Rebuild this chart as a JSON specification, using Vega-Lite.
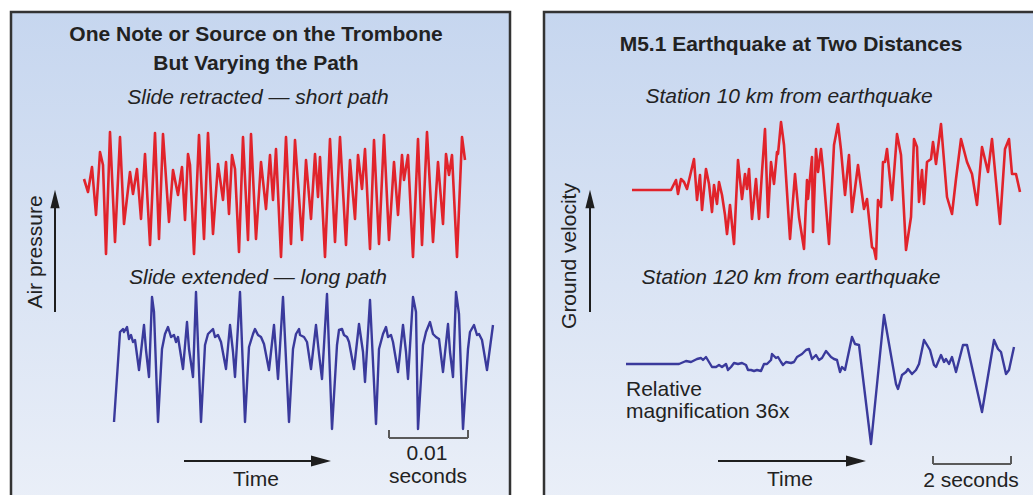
{
  "$schema": "https://vega.github.io/schema/vega-lite/v6.json",
  "background": "white",
  "padding": {"left": 9, "top": 10, "right": 0, "bottom": 0},
  "spacing": 30,
  "config": {
    "view": {
      "stroke": "#333333",
      "strokeWidth": 2.5,
      "fill": {
        "gradient": "linear",
        "x1": 0, "y1": 0, "x2": 0, "y2": 1,
        "stops": [
          {"offset": 0, "color": "#c6d6ef"},
          {"offset": 1, "color": "#eaeff8"}
        ]
      }
    },
    "text": {"font": "Liberation Sans", "fontSize": 21, "color": "#222222"}
  },
  "datasets": {
    "tromboneShort": [
      {"x":73,"y":167},{"x":77,"y":180},{"x":81,"y":155},{"x":85,"y":203},{"x":89,"y":140},{"x":92,"y":153},{"x":95,"y":242},{"x":99,"y":120},{"x":104,"y":230},{"x":109,"y":125},{"x":113,"y":212},{"x":119,"y":160},{"x":122,"y":182},{"x":126,"y":157},{"x":130,"y":207},{"x":134,"y":142},{"x":139,"y":233},{"x":144,"y":121},{"x":148,"y":227},{"x":152,"y":122},{"x":158,"y":210},{"x":162,"y":158},{"x":167,"y":183},{"x":171,"y":155},{"x":174,"y":208},{"x":177,"y":142},{"x":179,"y":153},{"x":183,"y":242},{"x":188,"y":123},{"x":193,"y":227},{"x":197,"y":121},{"x":202,"y":222},{"x":207,"y":152},{"x":212,"y":188},{"x":215,"y":150},{"x":218,"y":202},{"x":221,"y":143},{"x":224,"y":157},{"x":228,"y":240},{"x":232,"y":125},{"x":237,"y":228},{"x":240,"y":122},{"x":245,"y":227},{"x":250,"y":150},{"x":255,"y":197},{"x":259,"y":143},{"x":262,"y":188},{"x":265,"y":137},{"x":270,"y":245},{"x":275,"y":125},{"x":280,"y":232},{"x":284,"y":128},{"x":291,"y":228},{"x":295,"y":148},{"x":300,"y":207},{"x":304,"y":142},{"x":307,"y":185},{"x":309,"y":145},{"x":314,"y":245},{"x":319,"y":127},{"x":324,"y":230},{"x":329,"y":125},{"x":335,"y":233},{"x":339,"y":148},{"x":344,"y":207},{"x":347,"y":143},{"x":351,"y":177},{"x":354,"y":137},{"x":359,"y":237},{"x":363,"y":128},{"x":368,"y":232},{"x":373,"y":123},{"x":378,"y":228},{"x":383,"y":150},{"x":387,"y":203},{"x":391,"y":143},{"x":393,"y":168},{"x":397,"y":143},{"x":402,"y":245},{"x":407,"y":127},{"x":411,"y":233},{"x":416,"y":120},{"x":422,"y":230},{"x":427,"y":150},{"x":432,"y":212},{"x":435,"y":142},{"x":438,"y":163},{"x":441,"y":143},{"x":446,"y":245},{"x":451,"y":125},{"x":454,"y":148}
    ],
    "tromboneLong": [
      {"x":103,"y":410},{"x":109,"y":320},{"x":112,"y":317},{"x":113,"y":320},{"x":116,"y":315},{"x":118,"y":327},{"x":120,"y":323},{"x":122,"y":330},{"x":124,"y":328},{"x":128,"y":358},{"x":133,"y":313},{"x":135,"y":338},{"x":138,"y":365},{"x":141,"y":285},{"x":143,"y":300},{"x":147,"y":410},{"x":151,"y":337},{"x":154,"y":322},{"x":157,"y":315},{"x":160,"y":325},{"x":163,"y":323},{"x":165,"y":330},{"x":167,"y":325},{"x":172,"y":357},{"x":176,"y":310},{"x":178,"y":337},{"x":182,"y":365},{"x":185,"y":280},{"x":190,"y":410},{"x":194,"y":333},{"x":197,"y":322},{"x":202,"y":317},{"x":204,"y":325},{"x":207,"y":323},{"x":210,"y":330},{"x":215,"y":357},{"x":219,"y":313},{"x":222,"y":340},{"x":224,"y":365},{"x":229,"y":280},{"x":234,"y":410},{"x":238,"y":335},{"x":242,"y":322},{"x":244,"y":317},{"x":247,"y":323},{"x":250,"y":325},{"x":253,"y":332},{"x":258,"y":358},{"x":263,"y":313},{"x":265,"y":340},{"x":267,"y":367},{"x":272,"y":285},{"x":278,"y":410},{"x":282,"y":337},{"x":285,"y":322},{"x":288,"y":317},{"x":289,"y":323},{"x":293,"y":325},{"x":296,"y":330},{"x":300,"y":357},{"x":305,"y":313},{"x":308,"y":342},{"x":311,"y":367},{"x":316,"y":282},{"x":321,"y":417},{"x":326,"y":333},{"x":328,"y":318},{"x":331,"y":317},{"x":333,"y":323},{"x":336,"y":325},{"x":338,"y":330},{"x":343,"y":357},{"x":348,"y":312},{"x":352,"y":340},{"x":354,"y":370},{"x":359,"y":288},{"x":365,"y":412},{"x":368,"y":337},{"x":372,"y":322},{"x":375,"y":315},{"x":377,"y":325},{"x":380,"y":323},{"x":382,"y":330},{"x":387,"y":360},{"x":392,"y":313},{"x":395,"y":340},{"x":397,"y":367},{"x":402,"y":285},{"x":405,"y":300},{"x":407,"y":417},{"x":412,"y":333},{"x":415,"y":320},{"x":419,"y":310},{"x":422,"y":322},{"x":425,"y":325},{"x":428,"y":327},{"x":432,"y":360},{"x":437,"y":312},{"x":439,"y":340},{"x":442,"y":365},{"x":445,"y":280},{"x":448,"y":302},{"x":452,"y":417},{"x":457,"y":337},{"x":459,"y":320},{"x":463,"y":313},{"x":466,"y":323},{"x":468,"y":322},{"x":471,"y":328},{"x":476,"y":358},{"x":482,"y":313}
    ],
    "quakeNear": [
      {"x":88,"y":178},{"x":127,"y":178},{"x":132,"y":168},{"x":134,"y":182},{"x":137,"y":167},{"x":140,"y":170},{"x":143,"y":177},{"x":150,"y":147},{"x":153,"y":188},{"x":156,"y":163},{"x":158,"y":198},{"x":162,"y":157},{"x":165,"y":172},{"x":168,"y":200},{"x":170,"y":173},{"x":173,"y":192},{"x":175,"y":170},{"x":178,"y":183},{"x":181,"y":203},{"x":183,"y":222},{"x":186,"y":193},{"x":190,"y":232},{"x":194,"y":148},{"x":198,"y":187},{"x":201,"y":162},{"x":203,"y":177},{"x":205,"y":157},{"x":208,"y":207},{"x":212,"y":167},{"x":215,"y":207},{"x":218,"y":160},{"x":221,"y":117},{"x":224,"y":205},{"x":227,"y":150},{"x":230,"y":172},{"x":233,"y":140},{"x":234,"y":142},{"x":237,"y":110},{"x":240,"y":133},{"x":246,"y":227},{"x":251,"y":162},{"x":255,"y":205},{"x":260,"y":237},{"x":263,"y":168},{"x":264,"y":187},{"x":268,"y":145},{"x":269,"y":220},{"x":272,"y":137},{"x":274,"y":160},{"x":277,"y":137},{"x":279,"y":157},{"x":285,"y":232},{"x":290,"y":133},{"x":294,"y":112},{"x":297,"y":138},{"x":301,"y":183},{"x":305,"y":143},{"x":308,"y":200},{"x":314,"y":153},{"x":320,"y":197},{"x":323,"y":187},{"x":328,"y":235},{"x":330,"y":237},{"x":332,"y":247},{"x":334,"y":188},{"x":337,"y":195},{"x":339,"y":150},{"x":341,"y":150},{"x":343,"y":137},{"x":348,"y":188},{"x":353,"y":122},{"x":357,"y":143},{"x":362,"y":238},{"x":367,"y":205},{"x":370,"y":127},{"x":373,"y":135},{"x":375,"y":190},{"x":378,"y":158},{"x":380,"y":192},{"x":383,"y":150},{"x":387,"y":147},{"x":389,"y":130},{"x":392,"y":152},{"x":397,"y":112},{"x":403,"y":185},{"x":408,"y":202},{"x":412,"y":167},{"x":417,"y":127},{"x":423,"y":150},{"x":428,"y":162},{"x":433,"y":193},{"x":438,"y":135},{"x":444,"y":160},{"x":448,"y":127},{"x":456,"y":212},{"x":461,"y":137},{"x":465,"y":127},{"x":468,"y":162},{"x":472,"y":162},{"x":476,"y":180}
    ],
    "quakeFar": [
      {"x":82,"y":352},{"x":135,"y":352},{"x":142,"y":349},{"x":147,"y":350},{"x":151,"y":348},{"x":153,"y":347},{"x":157,"y":346},{"x":159,"y":348},{"x":162,"y":345},{"x":165,"y":350},{"x":168,"y":355},{"x":172,"y":355},{"x":175,"y":353},{"x":178,"y":355},{"x":182,"y":352},{"x":184,"y":358},{"x":187,"y":355},{"x":190,"y":351},{"x":194,"y":352},{"x":198,"y":351},{"x":202,"y":353},{"x":204,"y":358},{"x":207,"y":358},{"x":210,"y":359},{"x":213,"y":358},{"x":217,"y":359},{"x":220,"y":352},{"x":223,"y":352},{"x":227,"y":348},{"x":228,"y":342},{"x":232,"y":346},{"x":234,"y":345},{"x":237,"y":350},{"x":239,"y":353},{"x":242,"y":350},{"x":247,"y":351},{"x":250,"y":350},{"x":253,"y":345},{"x":258,"y":342},{"x":262,"y":338},{"x":265,"y":337},{"x":268,"y":347},{"x":272,"y":343},{"x":275,"y":348},{"x":278,"y":346},{"x":282,"y":339},{"x":287,"y":345},{"x":290,"y":347},{"x":293,"y":348},{"x":296,"y":360},{"x":298,"y":355},{"x":301,"y":358},{"x":308,"y":325},{"x":311,"y":332},{"x":315,"y":333},{"x":327,"y":432},{"x":340,"y":303},{"x":352,"y":372},{"x":354,"y":377},{"x":358,"y":363},{"x":362,"y":360},{"x":364,"y":357},{"x":368,"y":362},{"x":372,"y":358},{"x":375,"y":352},{"x":380,"y":328},{"x":386,"y":338},{"x":390,"y":353},{"x":392,"y":355},{"x":397,"y":343},{"x":400,"y":350},{"x":402,"y":347},{"x":405,"y":352},{"x":408,"y":345},{"x":412,"y":360},{"x":419,"y":333},{"x":423,"y":333},{"x":438,"y":400},{"x":450,"y":328},{"x":454,"y":337},{"x":457,"y":340},{"x":462,"y":362},{"x":465,"y":358},{"x":470,"y":335}
    ],
    "leftLabels": [
      {"role":"title","x":245,"y":23,"label":"One Note or Source on the Trombone"},
      {"role":"title","x":245,"y":52,"label":"But Varying the Path"},
      {"role":"trace","x":247,"y":86,"label":"Slide retracted — short path"},
      {"role":"trace","x":247,"y":266,"label":"Slide extended — long path"},
      {"role":"note","x":245,"y":468,"label":"Time"},
      {"role":"note","x":416,"y":442,"label":"0.01"},
      {"role":"note","x":417,"y":465,"label":"seconds"},
      {"role":"axis","x":25,"y":240,"label":"Air pressure"}
    ],
    "rightLabels": [
      {"role":"title","x":247,"y":33,"label":"M5.1 Earthquake at Two Distances"},
      {"role":"trace","x":245,"y":85,"label":"Station 10 km from earthquake"},
      {"role":"trace","x":247,"y":266,"label":"Station 120 km from earthquake"},
      {"role":"note","x":246,"y":468,"label":"Time"},
      {"role":"note","x":427,"y":469,"label":"2 seconds"},
      {"role":"side","x":82,"y":378,"label":"Relative"},
      {"role":"side","x":82,"y":400,"label":"magnification 36x"},
      {"role":"axis","x":26,"y":244,"label":"Ground velocity"}
    ],
    "leftArrows": [
      {"x":173,"y":449,"x2":312,"y2":449,"dir":"right"},
      {"x":44,"y":300,"x2":44,"y2":190,"dir":"up"}
    ],
    "leftHeads": [
      {"x":310,"y":449,"dir":"right"},
      {"x":44,"y":187,"dir":"up"}
    ],
    "leftBracket": [
      {"x":378,"y":426,"x2":457,"y2":426},
      {"x":378,"y":418,"x2":378,"y2":426},
      {"x":457,"y":418,"x2":457,"y2":426}
    ],
    "rightArrows": [
      {"x":174,"y":449,"x2":314,"y2":449,"dir":"right"},
      {"x":46,"y":300,"x2":46,"y2":190,"dir":"up"}
    ],
    "rightHeads": [
      {"x":312,"y":449,"dir":"right"},
      {"x":46,"y":187,"dir":"up"}
    ],
    "rightBracket": [
      {"x":389,"y":452,"x2":467,"y2":452},
      {"x":389,"y":444,"x2":389,"y2":452},
      {"x":467,"y":444,"x2":467,"y2":452}
    ]
  },
  "hconcat": [
    {
      "width": 499,
      "height": 490,
      "encoding": {
        "x": {"field": "x", "type": "quantitative", "scale": {"domain": [0, 499], "nice": false, "zero": false}, "axis": null},
        "y": {"field": "y", "type": "quantitative", "scale": {"domain": [0, 490], "nice": false, "zero": false, "reverse": true}, "axis": null}
      },
      "layer": [
        {"data": {"name": "tromboneShort"}, "mark": {"type": "line", "color": "#e1232b", "strokeWidth": 2.6, "strokeJoin": "round"}, "encoding": {}},
        {"data": {"name": "tromboneLong"}, "mark": {"type": "line", "color": "#3a3a9c", "strokeWidth": 2.4, "strokeJoin": "round"}, "encoding": {}},
        {"data": {"name": "leftArrows"}, "mark": {"type": "rule", "color": "#1e1e1e", "strokeWidth": 2}, "encoding": {"x2": {"field": "x2"}, "y2": {"field": "y2"}}},
        {"data": {"name": "leftBracket"}, "mark": {"type": "rule", "color": "#5a5a5a", "strokeWidth": 2}, "encoding": {"x2": {"field": "x2"}, "y2": {"field": "y2"}}},
        {"data": {"name": "leftHeads"}, "transform": [{"filter": "datum.dir === 'right'"}], "mark": {"type": "point", "shape": "M1,0L-1,0.55L-1,-0.55Z", "filled": true, "size": 400, "color": "#1e1e1e", "opacity": 1}},
        {"data": {"name": "leftHeads"}, "transform": [{"filter": "datum.dir === 'up'"}], "mark": {"type": "point", "shape": "M0,-1L0.5,1L-0.5,1Z", "filled": true, "size": 340, "color": "#1e1e1e", "opacity": 1}},
        {"data": {"name": "leftLabels"}, "transform": [{"filter": "datum.role === 'title'"}], "mark": {"type": "text", "fontWeight": "bold", "baseline": "middle", "align": "center"}, "encoding": {"text": {"field": "label"}}},
        {"data": {"name": "leftLabels"}, "transform": [{"filter": "datum.role === 'trace'"}], "mark": {"type": "text", "fontStyle": "italic", "baseline": "middle", "align": "center"}, "encoding": {"text": {"field": "label"}}},
        {"data": {"name": "leftLabels"}, "transform": [{"filter": "datum.role === 'note'"}], "mark": {"type": "text", "baseline": "middle", "align": "center"}, "encoding": {"text": {"field": "label"}}},
        {"data": {"name": "leftLabels"}, "transform": [{"filter": "datum.role === 'axis'"}], "mark": {"type": "text", "angle": 270, "baseline": "middle", "align": "center"}, "encoding": {"text": {"field": "label"}}}
      ]
    },
    {
      "width": 495,
      "height": 490,
      "encoding": {
        "x": {"field": "x", "type": "quantitative", "scale": {"domain": [0, 495], "nice": false, "zero": false}, "axis": null},
        "y": {"field": "y", "type": "quantitative", "scale": {"domain": [0, 490], "nice": false, "zero": false, "reverse": true}, "axis": null}
      },
      "layer": [
        {"data": {"name": "quakeNear"}, "mark": {"type": "line", "color": "#e1232b", "strokeWidth": 2.6, "strokeJoin": "round"}, "encoding": {}},
        {"data": {"name": "quakeFar"}, "mark": {"type": "line", "color": "#3a3a9c", "strokeWidth": 2.4, "strokeJoin": "round"}, "encoding": {}},
        {"data": {"name": "rightArrows"}, "mark": {"type": "rule", "color": "#1e1e1e", "strokeWidth": 2}, "encoding": {"x2": {"field": "x2"}, "y2": {"field": "y2"}}},
        {"data": {"name": "rightBracket"}, "mark": {"type": "rule", "color": "#5a5a5a", "strokeWidth": 2}, "encoding": {"x2": {"field": "x2"}, "y2": {"field": "y2"}}},
        {"data": {"name": "rightHeads"}, "transform": [{"filter": "datum.dir === 'right'"}], "mark": {"type": "point", "shape": "M1,0L-1,0.55L-1,-0.55Z", "filled": true, "size": 400, "color": "#1e1e1e", "opacity": 1}},
        {"data": {"name": "rightHeads"}, "transform": [{"filter": "datum.dir === 'up'"}], "mark": {"type": "point", "shape": "M0,-1L0.5,1L-0.5,1Z", "filled": true, "size": 340, "color": "#1e1e1e", "opacity": 1}},
        {"data": {"name": "rightLabels"}, "transform": [{"filter": "datum.role === 'title'"}], "mark": {"type": "text", "fontWeight": "bold", "baseline": "middle", "align": "center"}, "encoding": {"text": {"field": "label"}}},
        {"data": {"name": "rightLabels"}, "transform": [{"filter": "datum.role === 'trace'"}], "mark": {"type": "text", "fontStyle": "italic", "baseline": "middle", "align": "center"}, "encoding": {"text": {"field": "label"}}},
        {"data": {"name": "rightLabels"}, "transform": [{"filter": "datum.role === 'note'"}], "mark": {"type": "text", "baseline": "middle", "align": "center"}, "encoding": {"text": {"field": "label"}}},
        {"data": {"name": "rightLabels"}, "transform": [{"filter": "datum.role === 'side'"}], "mark": {"type": "text", "baseline": "middle", "align": "left"}, "encoding": {"text": {"field": "label"}}},
        {"data": {"name": "rightLabels"}, "transform": [{"filter": "datum.role === 'axis'"}], "mark": {"type": "text", "angle": 270, "baseline": "middle", "align": "center"}, "encoding": {"text": {"field": "label"}}}
      ]
    }
  ],
  "resolve": {"scale": {"x": "independent", "y": "independent"}}
}
